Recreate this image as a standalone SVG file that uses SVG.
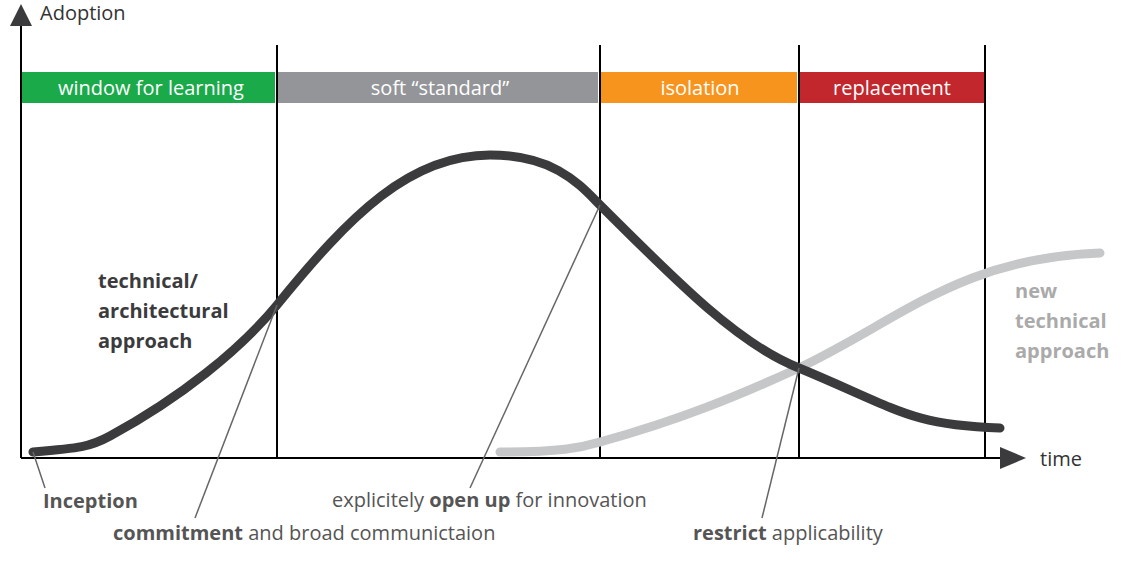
<svg xmlns="http://www.w3.org/2000/svg" width="1121" height="579" viewBox="0 0 1121 579">
<style>
text{font-family:"Open Sans","Liberation Sans",sans-serif;font-size:20px}
.band{fill:#fff;text-anchor:middle}
.lab{fill:#555}
.b{font-weight:bold}
.vl{stroke:#000;stroke-width:2}
.ld{stroke:#666;stroke-width:1.5;fill:none}
</style>
<rect width="1121" height="579" fill="#fff"/>
<g id="axes">
<line x1="21" y1="458" x2="21" y2="24" stroke="#000" stroke-width="2"/>
<polygon points="10,26 21,4 32,26" fill="#3b3b3d"/>
<line x1="21" y1="458" x2="1002" y2="458" stroke="#000" stroke-width="2"/>
<polygon points="1000,447 1026,458 1000,469" fill="#3b3b3d"/>
<text x="40" y="20" fill="#333" font-size="20">Adoption</text>
<text x="1040" y="466" fill="#333">time</text>
</g>
<g id="phases">
<rect x="22" y="72" width="253" height="31" fill="#1aaa4a"/>
<rect x="278" y="72" width="320" height="31" fill="#939598"/>
<rect x="601" y="72" width="196" height="31" fill="#f7941d"/>
<rect x="800" y="72" width="184" height="31" fill="#c1272d"/>
<text class="band" x="151" y="95">window for learning</text>
<text class="band" x="440" y="95">soft “standard”</text>
<text class="band" x="700" y="95">isolation</text>
<text class="band" x="892" y="95">replacement</text>
<line class="vl" x1="277" y1="45" x2="277" y2="458" stroke-width="2.5"/>
<line class="vl" x1="600" y1="45" x2="600" y2="458"/>
<line class="vl" x1="799" y1="45" x2="799" y2="458"/>
<line class="vl" x1="985" y1="45" x2="985" y2="458"/>
</g>
<g id="connectors">
<path d="M500,452 C560,452 580,448 600,442 C680,420 740,395 799,368 C900,320 960,258 1100,253" stroke="#c6c7c8" stroke-width="9" fill="none" stroke-linecap="round"/>
<path d="M33,452 C80,448 90,447 110,436 C180,398 240,350 277,305 C350,215 410,155 490,155 C555,155 580,185 600,205 C680,285 740,345 799,368 C900,410 910,425 1000,428" stroke="#3b3b3d" stroke-width="9" fill="none" stroke-linecap="round"/>
<line class="ld" x1="33" y1="452" x2="45" y2="488"/>
<line class="ld" x1="277" y1="305" x2="195" y2="518"/>
<line class="ld" x1="600" y1="205" x2="470" y2="488"/>
<line class="ld" x1="799" y1="368" x2="762" y2="518"/>
</g>
<g id="labels">
<text x="98" y="288" class="b" fill="#3b3b3d">technical/</text>
<text x="98" y="318" class="b" fill="#3b3b3d">architectural</text>
<text x="98" y="348" class="b" fill="#3b3b3d">approach</text>
<text x="1015" y="298" class="b" fill="#aaa">new</text>
<text x="1015" y="328" class="b" fill="#aaa">technical</text>
<text x="1015" y="358" class="b" fill="#aaa">approach</text>
<text x="43" y="508" class="lab b">Inception</text>
<text x="113" y="540" class="lab"><tspan class="b">commitment</tspan> and broad communictaion</text>
<text x="332" y="507" class="lab">explicitely <tspan class="b">open up</tspan> for innovation</text>
<text x="693" y="540" class="lab"><tspan class="b">restrict</tspan> applicability</text>
</g>
</svg>
